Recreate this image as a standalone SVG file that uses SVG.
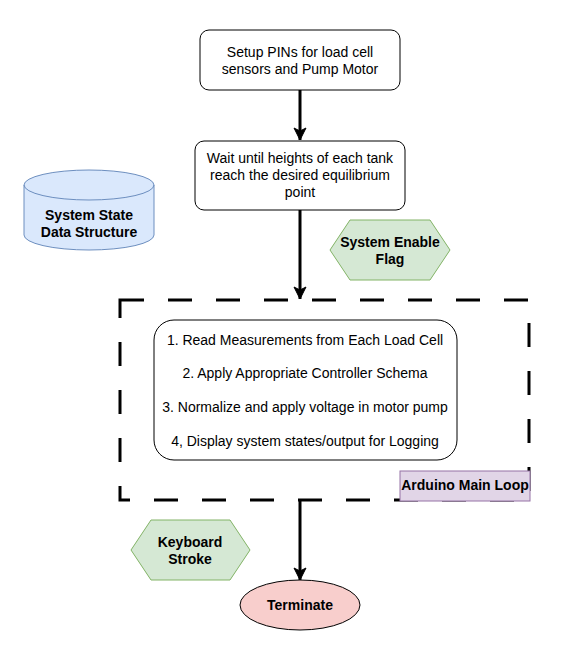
<svg xmlns="http://www.w3.org/2000/svg" width="581" height="661" viewBox="0 0 581 661">
<defs>
<style>
.box{fill:#fff;stroke:#000;stroke-width:1}
.t{font-family:"Liberation Sans",Arial,sans-serif;font-size:14px;fill:#000;text-anchor:middle}
.b{font-family:"Liberation Sans",Arial,sans-serif;font-size:14px;font-weight:bold;fill:#000;text-anchor:middle}
.edge{stroke:#000;stroke-width:3;fill:none}
.hex{fill:#d5e8d4;stroke:#82b366;stroke-width:1}
</style>
<marker id="arr" markerUnits="userSpaceOnUse" markerWidth="14" markerHeight="14" viewBox="0 0 14 14" refX="13" refY="7" orient="auto">
<path d="M1,1 L13,7 L1,13 L4,7 Z" fill="#000" stroke="#000" stroke-width="1"/>
</marker>
</defs>
<rect width="581" height="661" fill="#fff"/>
<g id="connectors">
<line class="edge" x1="300" y1="90" x2="300" y2="140" marker-end="url(#arr)"/>
<line class="edge" x1="300" y1="210" x2="300" y2="299" marker-end="url(#arr)"/>
<line class="edge" x1="300" y1="500" x2="300" y2="580" marker-end="url(#arr)"/>
</g>
<g id="loop">
<rect x="120" y="300" width="409" height="200" fill="none" stroke="#000" stroke-width="3" stroke-dasharray="24 24"/>
</g>
<g id="setup">
<rect class="box" x="200" y="30" width="200" height="60" rx="9"/>
<text class="t" x="300" y="57">Setup PINs for load cell</text>
<text class="t" x="300" y="74">sensors and Pump Motor</text>
</g>
<g id="wait">
<rect class="box" x="195" y="141" width="210" height="69" rx="9"/>
<text class="t" x="300" y="163">Wait until heights of each tank</text>
<text class="t" x="300" y="180">reach the desired equilibrium</text>
<text class="t" x="300" y="197">point</text>
</g>
<g id="state">
<path d="M24,185 A65,15 0 0 1 154,185 L154,235 A65,15 0 0 1 24,235 Z" fill="#dae8fc" stroke="#6c8ebf"/>
<path d="M24,185 A65,15 0 0 0 154,185" fill="none" stroke="#6c8ebf"/>
<text class="b" x="89" y="220">System State</text>
<text class="b" x="89" y="237">Data Structure</text>
</g>
<g id="enable">
<polygon class="hex" points="350,220 430,220 450,250 430,280 350,280 330,250"/>
<text class="b" x="390" y="247">System Enable</text>
<text class="b" x="390" y="264">Flag</text>
</g>
<g id="steps">
<rect class="box" x="154" y="320" width="303" height="140" rx="20"/>
<text class="t" x="305" y="345">1. Read Measurements from Each Load Cell</text>
<text class="t" x="305" y="378">2. Apply Appropriate Controller Schema</text>
<text class="t" x="305" y="412">3. Normalize and apply voltage in motor pump</text>
<text class="t" x="305" y="446">4, Display system states/output for Logging</text>
</g>
<g id="arduino">
<rect x="400" y="471" width="130" height="30" fill="#e1d5e7" stroke="#9673a6"/>
<text class="b" x="465" y="490">Arduino Main Loop</text>
</g>
<g id="keyboard">
<polygon class="hex" points="151,520 230,520 250,550 230,580 151,580 131,550"/>
<text class="b" x="190" y="547">Keyboard</text>
<text class="b" x="190" y="564">Stroke</text>
</g>
<g id="terminate">
<ellipse cx="300" cy="605" rx="60" ry="25" fill="#f8cecc" stroke="#000"/>
<text class="b" x="300" y="610">Terminate</text>
</g>
</svg>
